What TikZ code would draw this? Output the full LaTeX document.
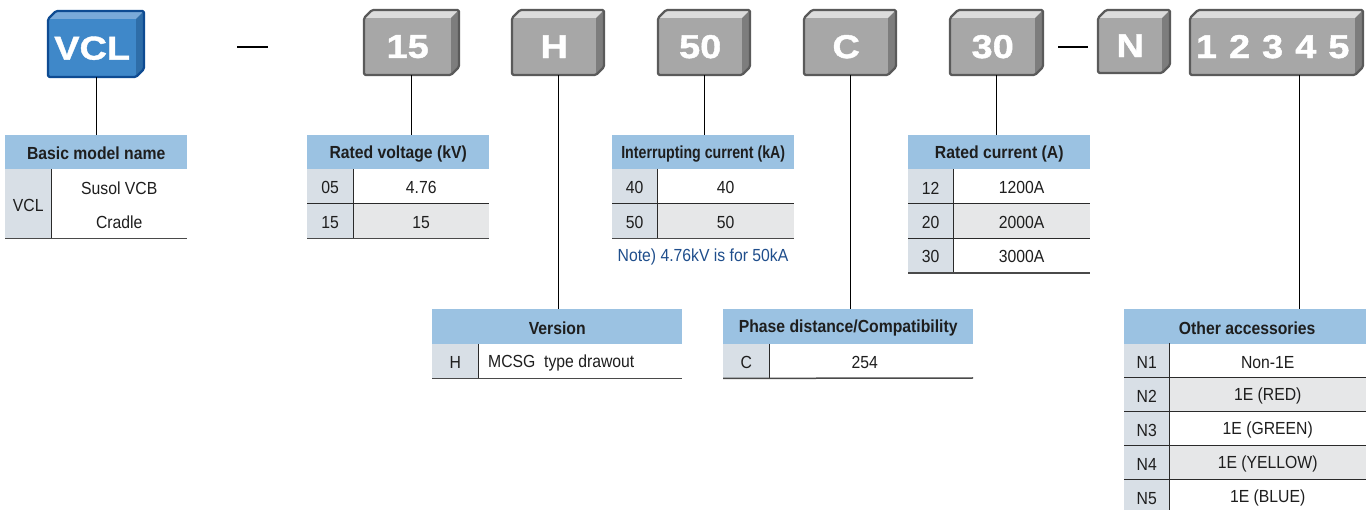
\documentclass[tikz,border=0pt]{standalone}
\usepackage{fontspec}
\setmainfont{Liberation Sans}
\newfontfamily\narrowf[FakeStretch=0.9]{Liberation Sans}
\newfontfamily\widef[FakeStretch=1.15,FakeBold=1.2]{Liberation Sans}
\definecolor{bluetop}{HTML}{7AAAD9}
\definecolor{bluefront}{HTML}{3F88C9}
\definecolor{blueside}{HTML}{2E6DA8}
\definecolor{blueedge}{HTML}{0E4B92}
\definecolor{greytop}{HTML}{DCDCDC}
\definecolor{greyfront}{HTML}{A7A7A7}
\definecolor{greyside}{HTML}{7D7D7D}
\definecolor{greyedge}{HTML}{5A5A5A}
\definecolor{hdrblue}{HTML}{9BC2E2}
\definecolor{keyfill}{HTML}{D8DFE6}
\definecolor{rowgrey}{HTML}{E6E7E8}
\definecolor{txt}{HTML}{1E1E1E}
\definecolor{notecol}{HTML}{1F4E8C}
\definecolor{sepdark}{HTML}{2A2A2A}
\definecolor{botgrey}{HTML}{4A4A4A}
\tikzset{
  conn/.style={line width=0.9pt, black},
  dashbar/.style={line width=2.8pt, black},
  hdr/.style={fill=hdrblue, inner sep=0pt, anchor=north west, text=txt,
    font=\narrowf\bfseries\fontsize{17.5}{20}\selectfont},
  keyc/.style={fill=keyfill, inner sep=0pt, anchor=north west, text=txt,
    font=\narrowf\fontsize{17.5}{20}\selectfont},
  valc/.style={inner sep=0pt, anchor=north west, text=txt, align=center,
    font=\narrowf\fontsize{17.5}{34}\selectfont},
  valg/.style={valc, fill=rowgrey},
  valw/.style={valc, fill=white},
  plain/.style={inner sep=0pt, text=txt, font=\narrowf\fontsize{17.5}{20}\selectfont},
  notetext/.style={inner sep=0pt, text=notecol, font=\narrowf\fontsize{17.5}{20}\selectfont},
  rowsep/.style={line width=1pt, sepdark},
  botline/.style={line width=1.5pt, botgrey},
  boxlbl/.style={inner sep=0pt, text=white, font=\widef\bfseries\fontsize{33}{33}\selectfont}
}
% cell: name, style, x0, y0, x1, y1, text
\newcommand\cell[7]{\node[#2, minimum width={#5-#3}, minimum height={#6-#4}] (#1) at (#3,#4) {\raisebox{-1.5pt}[\height][\depth]{#7}};}
% code box: name, x0, x1, y0, y1, colour prefix, label
\newcommand\codebox[7]{%
  \fill[#6top] (#2,#4+8) -- (#2+8,#4) -- (#3,#4) -- (#3-8,#4+8) -- cycle;
  \fill[#6side] (#3-8,#4+8) -- (#3,#4) -- (#3,#5-8) -- (#3-8,#5) -- cycle;
  \node[boxlbl, fill=#6front, anchor=north west, minimum width={#3-#2-8}, minimum height={#5-#4-8}] (#1) at (#2,#4+8) {#7};
  \draw[#6edge, line width=2.2pt, line join=round, rounded corners=1.5pt]
    (#2,#4+8) -- (#2+8,#4) -- (#3,#4) -- (#3,#5-8) -- (#3-8,#5) -- (#2,#5) -- cycle;
}
\begin{document}
\begin{tikzpicture}[x=1pt,y=-1pt]
\fill[white] (0,0) rectangle (1366,510);
\useasboundingbox (0,0) rectangle (1366,510);

% ---- code boxes ----
\codebox{bV}{48}{144}{11}{77}{blue}{VCL}
\codebox{b15}{364}{459}{10}{75}{grey}{15}
\codebox{bH}{512}{604}{10}{75}{grey}{H}
\codebox{b50}{658}{750}{10}{75}{grey}{50}
\codebox{bC}{804}{896}{10}{75}{grey}{C}
\codebox{b30}{950}{1043}{10}{75}{grey}{30}
\codebox{bN}{1098}{1170}{10}{73}{grey}{N}
\codebox{bX}{1190}{1363}{10}{75}{grey}{1\hspace{12pt}2\hspace{12pt}3\hspace{12pt}4\hspace{12pt}5}

\draw[dashbar] (237,47) -- (268,47);
\draw[dashbar] (1058,47) -- (1088,47);

% ---- Basic model name ----
\cell{tBMh}{hdr}{5}{135}{187}{169}{Basic model name}
\cell{tBMk}{keyc}{5}{169}{51}{238}{VCL}
\cell{tBMv}{valw}{51}{169}{187}{238}{\shortstack{Susol VCB\\[18pt]Cradle}}
\draw[rowsep] (tBMk.north east) -- (tBMk.south east);
\draw[botline] (tBMk.south west) -- (tBMv.south east);

% ---- Rated voltage ----
\cell{tRVh}{hdr}{307}{135}{489}{169}{Rated voltage (kV)}
\cell{tRVk1}{keyc}{307}{169}{353}{203.5}{05}
\cell{tRVv1}{valw}{353}{169}{489}{203.5}{4.76}
\cell{tRVk2}{keyc}{307}{203.5}{353}{238}{15}
\cell{tRVv2}{valg}{353}{203.5}{489}{238}{15}
\draw[rowsep] (tRVk1.south west) -- (tRVv1.south east);
\draw[rowsep] (tRVk1.north east) -- (tRVk2.south east);
\draw[botline] (tRVk2.south west) -- (tRVv2.south east);

% ---- Interrupting current ----
\cell{tICh}{hdr}{612}{135}{794}{169}{\scalebox{0.9}[1]{Interrupting current (kA)}}
\cell{tICk1}{keyc}{612}{169}{657}{203.5}{40}
\cell{tICv1}{valw}{657}{169}{794}{203.5}{40}
\cell{tICk2}{keyc}{612}{203.5}{657}{238}{50}
\cell{tICv2}{valg}{657}{203.5}{794}{238}{50}
\draw[rowsep] (tICk1.south west) -- (tICv1.south east);
\draw[rowsep] (tICk1.north east) -- (tICk2.south east);
\draw[botline] (tICk2.south west) -- (tICv2.south east);
\node[notetext] (note) at (703,257) {Note) 4.76kV is for 50kA};

% ---- Rated current ----
\cell{tRCh}{hdr}{908}{135}{1090}{169}{Rated current (A)}
\cell{tRCk1}{keyc}{908}{169}{953}{203.5}{12}
\cell{tRCv1}{valw}{953}{169}{1090}{203.5}{1200A}
\cell{tRCk2}{keyc}{908}{203.5}{953}{238}{20}
\cell{tRCv2}{valg}{953}{203.5}{1090}{238}{2000A}
\cell{tRCk3}{keyc}{908}{238}{953}{272.5}{30}
\cell{tRCv3}{valw}{953}{238}{1090}{272.5}{3000A}
\draw[rowsep] (tRCk1.south west) -- (tRCv1.south east);
\draw[rowsep] (tRCk2.south west) -- (tRCv2.south east);
\draw[rowsep] (tRCk1.north east) -- (tRCk3.south east);
\draw[botline] (tRCk3.south west) -- (tRCv3.south east);

% ---- Version ----
\cell{tVh}{hdr}{432}{309}{682}{344}{Version}
\cell{tVk}{keyc}{432}{344}{478}{378}{H}
\cell{tVv}{valw}{478}{344}{682}{378}{}
\node[plain, anchor=west] (tVt) at ([xshift=10pt,yshift=-1.5pt]tVv.west) {MCSG\ \ type drawout};
\draw[rowsep] (tVk.north east) -- (tVk.south east);
\draw[botline] (tVk.south west) -- (tVv.south east);

% ---- Phase distance ----
\cell{tPh}{hdr}{723}{309}{973}{344}{Phase distance/Compatibility}
\cell{tPk}{keyc}{723}{344}{769}{378}{C}
\cell{tPv}{valw}{769}{344}{960}{378}{254}
\fill[white] (tPv.north east) rectangle (973,378);
\draw[rowsep] (tPk.north east) -- (tPk.south east);
\draw[botline] (tPk.south west) -- (973,378);

% ---- Other accessories ----
\cell{tOh}{hdr}{1124}{309}{1370}{343.5}{Other accessories}
\cell{tOk1}{keyc}{1124}{343.5}{1169}{377.5}{N1}
\cell{tOv1}{valw}{1169}{343.5}{1366}{377.5}{Non-1E}
\cell{tOk2}{keyc}{1124}{377.5}{1169}{411.5}{N2}
\cell{tOv2}{valg}{1169}{377.5}{1366}{411.5}{1E (RED)}
\cell{tOk3}{keyc}{1124}{411.5}{1169}{445.5}{N3}
\cell{tOv3}{valw}{1169}{411.5}{1366}{445.5}{1E (GREEN)}
\cell{tOk4}{keyc}{1124}{445.5}{1169}{479.5}{N4}
\cell{tOv4}{valg}{1169}{445.5}{1366}{479.5}{1E (YELLOW)}
\cell{tOk5}{keyc}{1124}{479.5}{1169}{513.5}{N5}
\cell{tOv5}{valw}{1169}{479.5}{1366}{513.5}{1E (BLUE)}
\draw[rowsep] (tOk1.south west) -- (tOv1.south east);
\draw[rowsep] (tOk2.south west) -- (tOv2.south east);
\draw[rowsep] (tOk3.south west) -- (tOv3.south east);
\draw[rowsep] (tOk4.south west) -- (tOv4.south east);
\draw[rowsep] (tOk1.north east) -- (tOk5.south east);

% ---- connectors ----
\draw[conn] ([xshift=4pt]bV.south) coordinate (cV) -- (cV |- tBMh.north);
\draw[conn] ([xshift=4pt]b15.south) coordinate (c15) -- (c15 |- tRVh.north);
\draw[conn] ([xshift=4pt]bH.south) coordinate (cH) -- (cH |- tVh.north);
\draw[conn] ([xshift=4pt]b50.south) coordinate (c50) -- (c50 |- tICh.north);
\draw[conn] ([xshift=4pt]bC.south) coordinate (cC) -- (cC |- tPh.north);
\draw[conn] ([xshift=4pt]b30.south) coordinate (c30) -- (c30 |- tRCh.north);
\draw[conn] ([xshift=26.5pt]bX.south) coordinate (cX) -- (cX |- tOh.north);
\end{tikzpicture}
\end{document}
